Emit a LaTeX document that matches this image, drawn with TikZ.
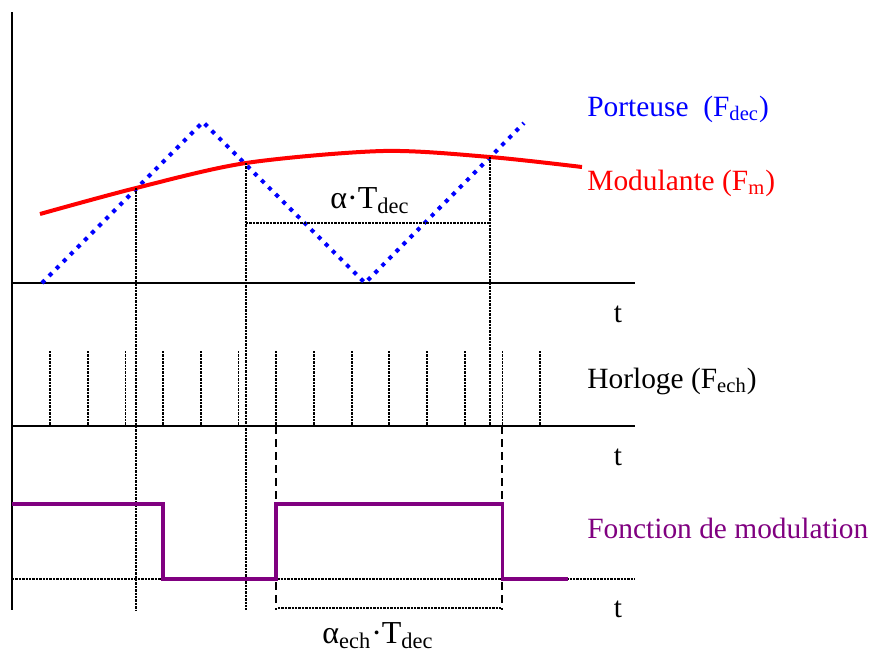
\documentclass[tikz,border=0pt]{standalone}
\usepackage{fontspec}
\setmainfont{Liberation Serif}
\usetikzlibrary{positioning}

\definecolor{purp}{RGB}{128,0,128}
\newcommand{\lbl}{\fontsize{14.7}{17}\selectfont}
\newcommand{\biglbl}{\fontsize{16}{18}\selectfont}

\begin{document}
\begin{tikzpicture}[
        x=0.5pt, y=-0.5pt,
        every node/.style={inner sep=0pt, font=\lbl},
        axis/.style={line width=1pt},
        guide/.style={line width=0.9pt, dash pattern=on 1.2pt off 0.5pt},
        dashguide/.style={line width=1pt, dash pattern=on 4pt off 2.5pt}
    ]

    \tikzset{
    carrier/.style={blue, line width=2pt, dash pattern=on 2pt off 3pt},
    modul/.style={red, line width=2pt},
    modfn/.style={purp, line width=1.8pt}
}

    \useasboundingbox (0,0) rectangle (869,655);

    % axes
    \coordinate (top) at (12,12);
    \coordinate (bot) at (12,610);
    \draw[axis] (top) -- (bot);
    \draw[axis] (12,283) -- (635,283);
    \draw[axis] (12,426) -- (635,426);
    \draw[guide] (12,579) -- (635,579);

    \node (t1) [anchor=base] at (618,322) {t};
    \node (t2) [anchor=base] at (618,465) {t};
    \node (t3) [anchor=base] at (618,617) {t};

    % carrier and modulating signal
    \draw[carrier] (42,283) -- (203,122) -- (365,283) -- (524,123);
    \draw[modul] plot[smooth] coordinates {(40,214) (136,188) (246,163) (383,151) (490,157) (582,167)};

    \node (porteuse) [anchor=base west, text=blue] at (587,116) {Porteuse\ \ (F\textsubscript{dec})};
    \node (modulante) [anchor=base west, text=red] at (587,190) {Modulante (F\textsubscript{m})};

    % crossings
    \coordinate (A) at (136,188);
    \coordinate (B) at (246,163);
    \coordinate (C) at (490,157);
    \draw[guide] (A) -- (136,610);
    \draw[guide] (B) -- (246,610);
    \draw[guide] (C) -- (490,426);

    \coordinate (alphaL) at (246,223);
    \coordinate (alphaR) at (490,223);
    \draw[guide] (alphaL) -- (alphaR);
    \node (alpha) [anchor=base, font=\biglbl] at (370,208) {α·T\textsubscript{dec}};

    % clock
    \foreach \i in {0,...,13}
        \draw[guide] ({50+37.7*\i},351) -- ({50+37.7*\i},426);
    \node (horloge) [anchor=base west] at (587,388) {Horloge (F\textsubscript{ech})};

    \coordinate (up) at (276.2,426);
    \coordinate (down) at (502.4,426);
    \draw[dashguide] (up) -- (276.2,610);
    \draw[dashguide] (down) -- (502.4,610);

    % modulation function
    \draw[modfn] (12,504) -| (163,579) -| (up |- 0,504) -| (down |- 0,579) -- (568,579);
    \node (fonction) [anchor=base west, text=purp] at (587,538) {Fonction de modulation};

    \coordinate (echL) at (278,608);
    \coordinate (echR) at (501,608);
    \draw[guide] (echL) -- (echR);
    \node (alphaech) [anchor=base, font=\biglbl] at (378,643) {α\textsubscript{ech}·T\textsubscript{dec}};
    \end{tikzpicture}
\end{document}
